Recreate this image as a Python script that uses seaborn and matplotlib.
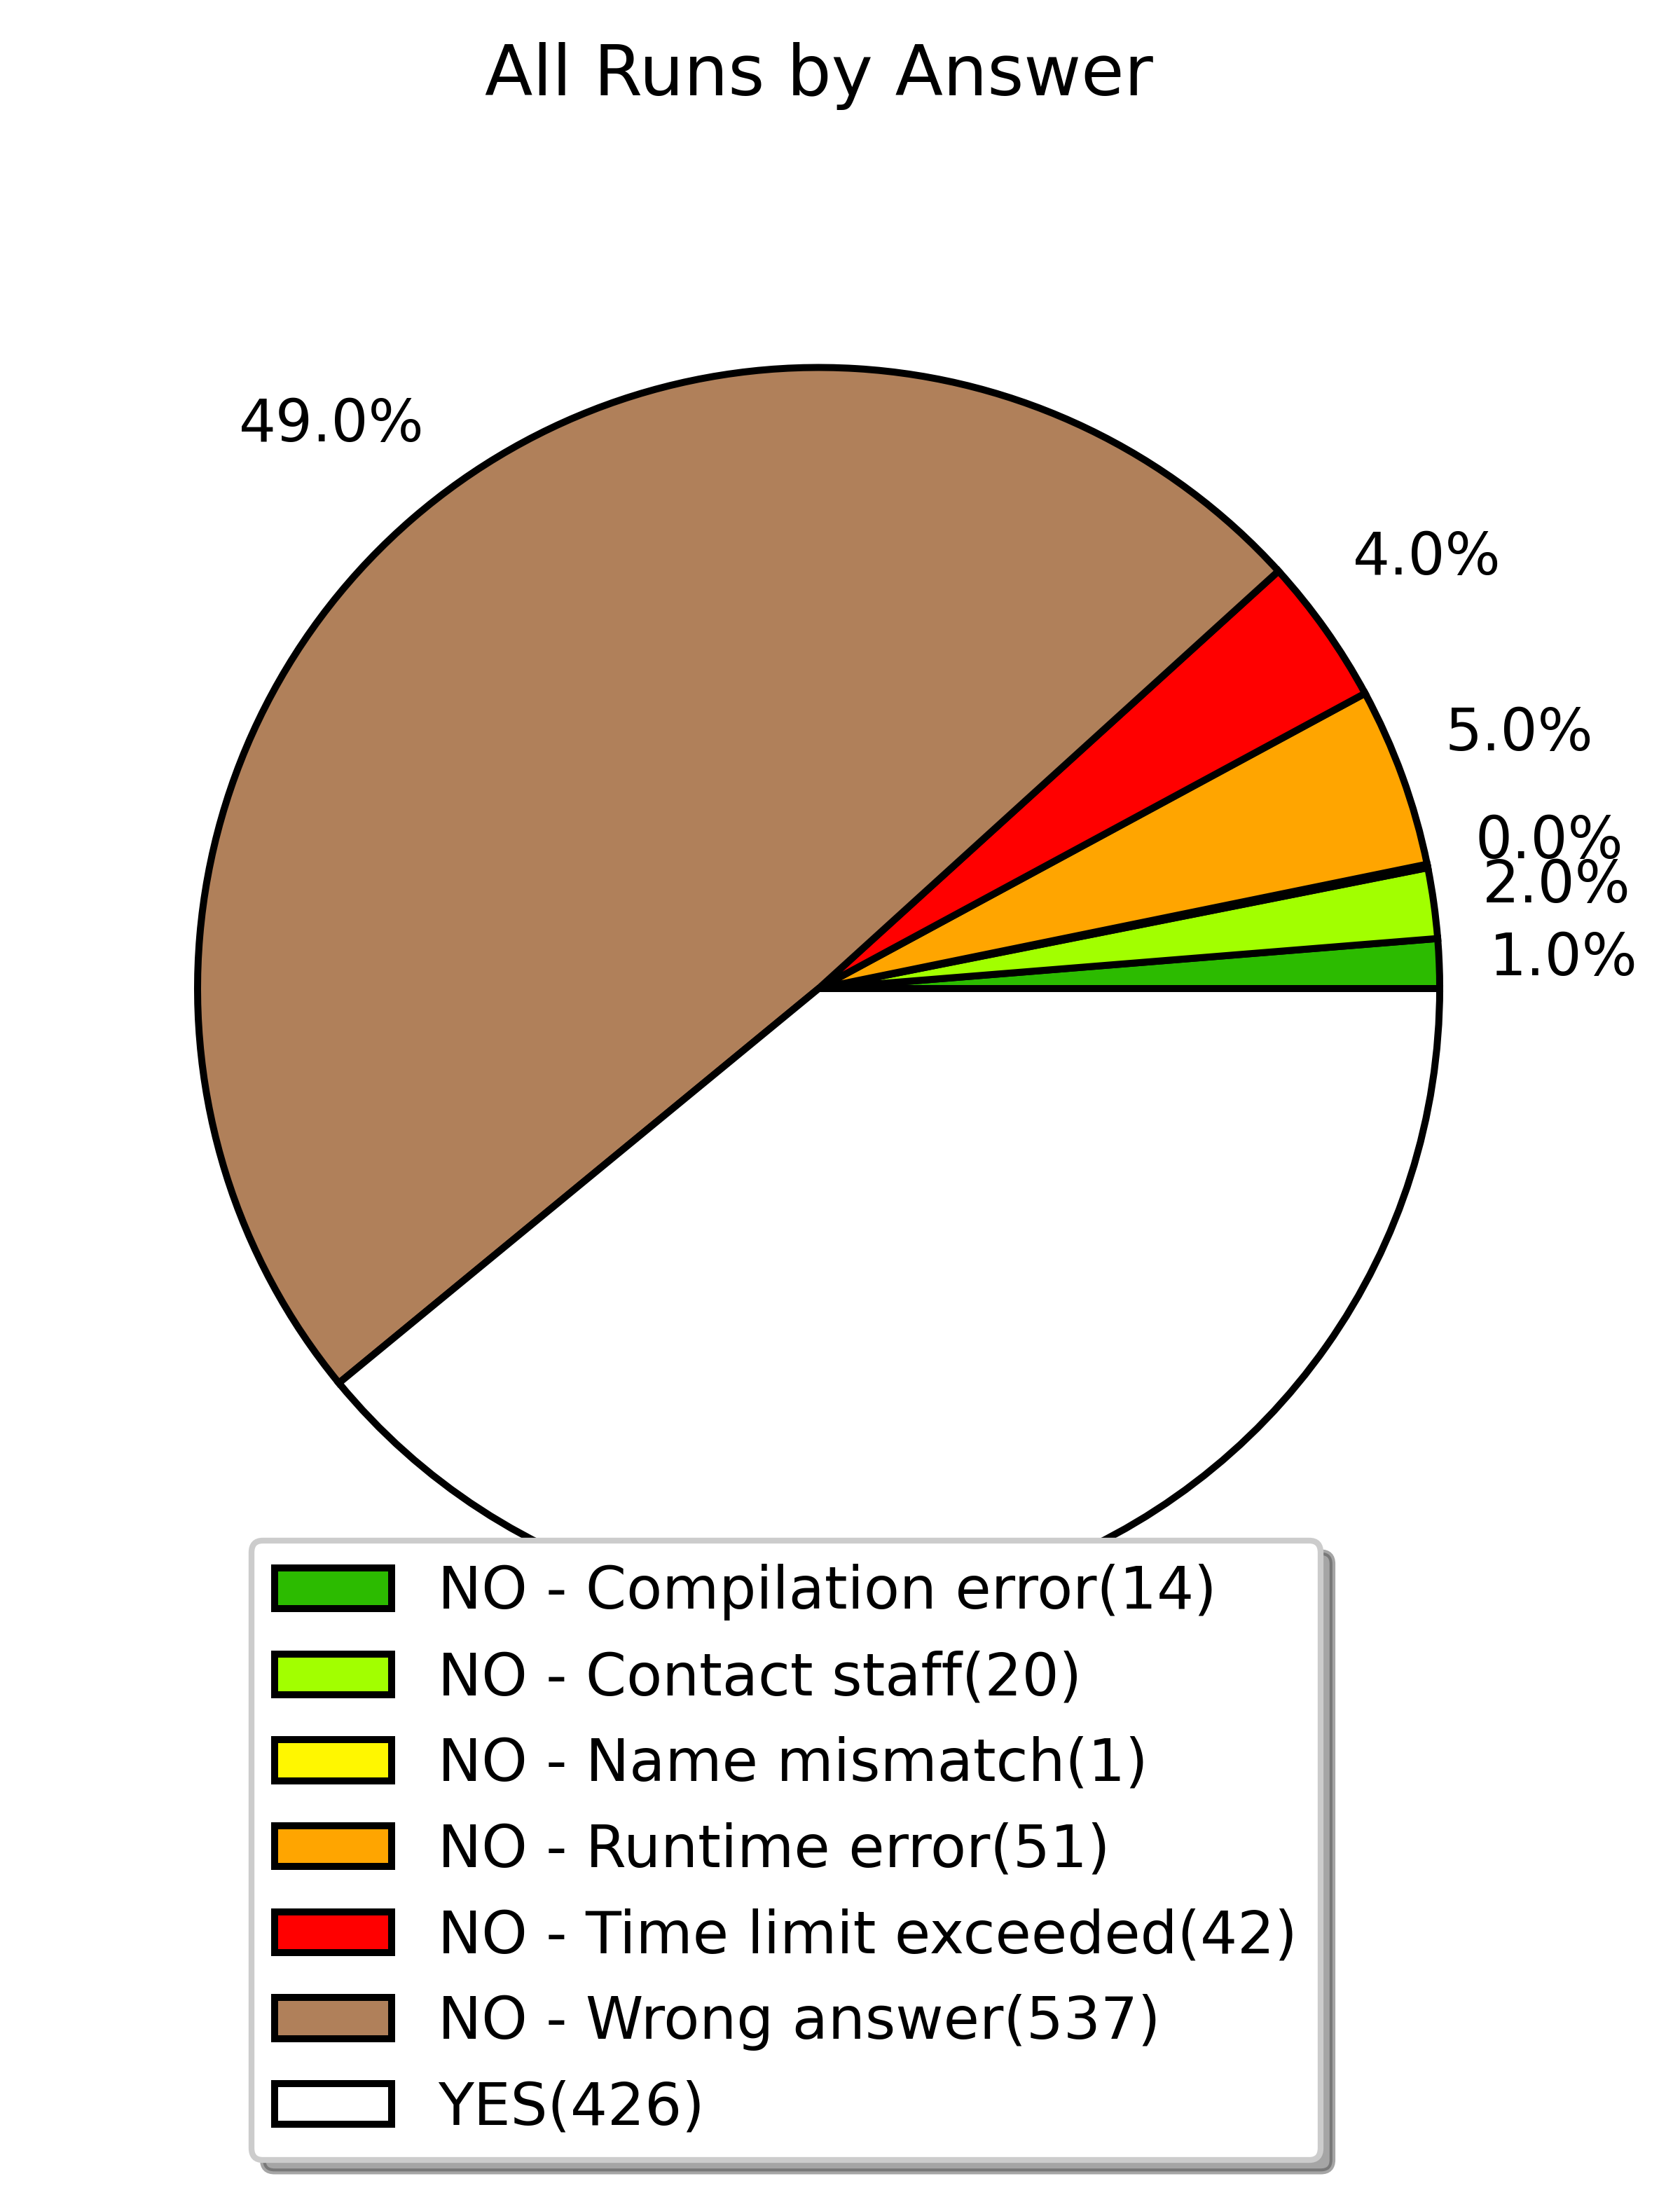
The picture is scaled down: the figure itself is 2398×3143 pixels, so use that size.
import matplotlib
import matplotlib.pyplot as plt
import seaborn as sns

matplotlib.use('Agg')

# Runs per answer (counts as printed in the legend)
answers = ["NO - Compilation error", "NO - Contact staff", "NO - Name mismatch",
           "NO - Runtime error", "NO - Time limit exceeded", "NO - Wrong answer", "YES"]
counts = [14, 20, 1, 51, 42, 537, 426]
colors = ["#2cbb00", "#a2ff00", "#fff700", "#ffa500", "#ff0000", "#b0805a", "#ffffff"]

sns.set_style("white")
plt.rcParams['font.family'] = ['DejaVu Sans']
plt.rcParams['font.size'] = 10
plt.rcParams['text.color'] = 'black'

W, H, DPI = 2398, 3143, 600
fig = plt.figure(figsize=(W / DPI, H / DPI), dpi=DPI)

# pie centre / radius in pixels of the output picture
cx, cy, r = 1168.5, 1411.0, 886.5
ax_top = 186.0
ax = fig.add_axes([0, 0, 2 * cx / W, 1 - ax_top / H])

wedges, texts, pcts = ax.pie(
    counts, colors=colors, startangle=0, pctdistance=1.2,
    autopct=lambda p: '%.1f%%' % round(p),
    wedgeprops=dict(edgecolor='black', linewidth=1.2),
    textprops=dict(fontsize=10, color='black'))

ax.set_aspect('auto')
ax.set_xlim(-cx / r, cx / r)
ax.set_ylim(-(H - cy) / r, (cy - ax_top) / r)
ax.set_title("All Runs by Answer", fontsize='large', color='black')

leg = fig.legend(wedges, [f"{a}({c})" for a, c in zip(answers, counts)],
                 loc='upper left', bbox_to_anchor=(358.5 / W, 1 - 2199 / H),
                 bbox_transform=fig.transFigure, borderaxespad=0,
                 fontsize=10, shadow=True, fancybox=True, edgecolor='0.8',
                 facecolor='white')
for t in leg.get_texts():
    t.set_color('black')

plt.savefig("out.png", dpi=DPI)
plt.close()
